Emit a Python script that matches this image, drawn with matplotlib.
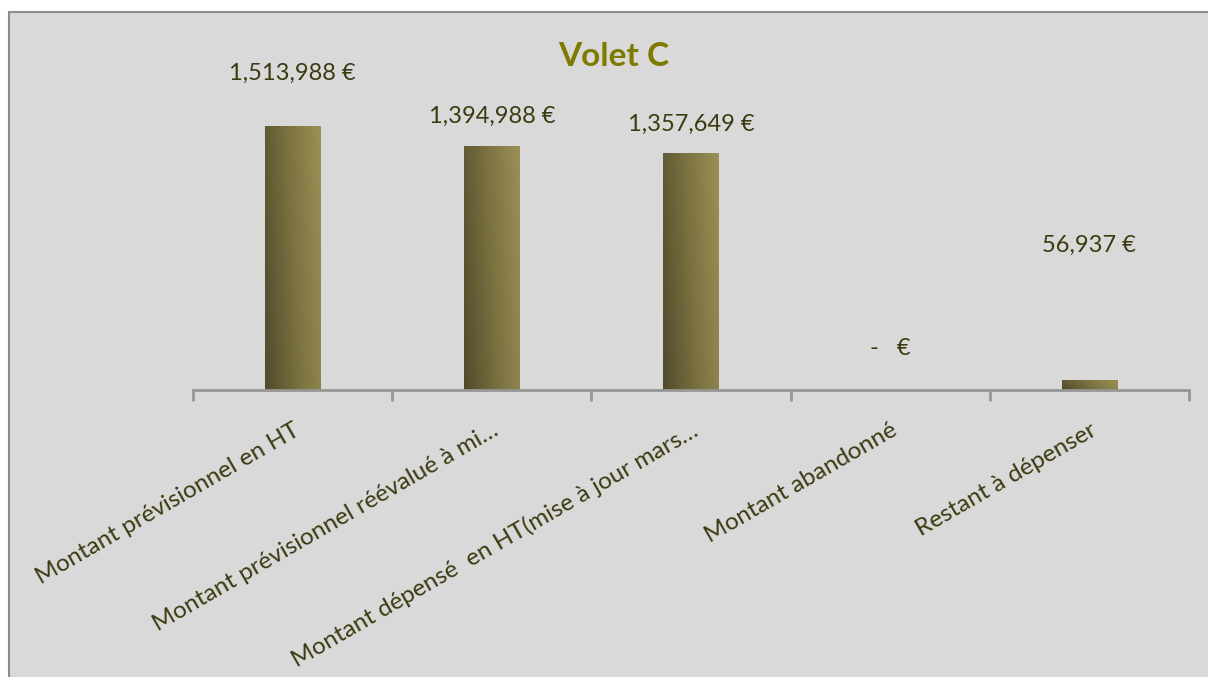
import matplotlib
matplotlib.use("Agg")
import matplotlib.pyplot as plt
import numpy as np
from matplotlib.colors import LinearSegmentedColormap
from matplotlib.patches import Rectangle

categories = [
    "Montant prévisionnel en HT",
    "Montant prévisionnel réévalué à mi…",
    "Montant dépensé  en HT(mise à jour mars…",
    "Montant abandonné",
    "Restant à dépenser",
]
values = [1513988, 1394988, 1357649, 0, 56937]
value_labels = ["1,513,988 €", "1,394,988 €", "1,357,649 €", "-   €", "56,937 €"]
# label heights (Excel placed them oddly), in data units
label_y = [1818000, 1571000, 1522000, 240000, 830000]

text_color = "#3b3a10"
plt.rcParams["font.family"] = ["Lato", "DejaVu Sans"]

fig = plt.figure(figsize=(12.08, 6.77), dpi=100)
fig.patch.set_facecolor("white")

# grey chart area with border on left/top
bg = Rectangle((9 / 1208, -0.01), 1.1, 1 - 12 / 677 + 0.01, transform=fig.transFigure,
               facecolor="#d9d9d9", edgecolor="#8c8c8c", linewidth=1.5, zorder=-1)
fig.patches.append(bg)

ax = fig.add_axes([193 / 1208, 1 - 390 / 677, 996 / 1208, 348.7 / 677])
ax.set_facecolor("none")
ax.set_xlim(-0.5, 4.5)
ax.set_ylim(0, 2000000)

x = np.arange(len(categories))
bars = ax.bar(x, values, width=0.28, color="none", zorder=2)

cmap = LinearSegmentedColormap.from_list("olive", ["#524b2c", "#7a7140", "#9b9055"])
gx, gy = np.meshgrid(np.linspace(0, 1, 64), np.linspace(0, 1, 64))
grad = 0.8 * gx + 0.2 * (1 - gy)
for bar in bars:
    h = bar.get_height()
    if h <= 0:
        continue
    ax.imshow(grad, cmap=cmap, aspect="auto", origin="upper",
              extent=(bar.get_x(), bar.get_x() + bar.get_width(), 0, h), zorder=2)

for xi, lab, ly in zip(x, value_labels, label_y):
    ax.text(xi, ly, lab, ha="center", va="center", fontsize=17, color=text_color)

fig.text(614 / 1208, 1 - 57 / 677, "Volet C", fontsize=24, fontweight="bold",
         color="#7f7a00", ha="center", va="center")

for s in ["top", "right", "left"]:
    ax.spines[s].set_visible(False)
ax.spines["bottom"].set_color("#969696")
ax.spines["bottom"].set_linewidth(2)
ax.set_yticks([])

ax.set_xticks(x)
ax.set_xticklabels(categories, rotation=30, ha="right", rotation_mode="anchor",
                   fontsize=17.5, color=text_color)
ax.tick_params(axis="x", length=0, pad=21)
ax.set_xticks(np.arange(-0.5, 5, 1), minor=True)
ax.tick_params(axis="x", which="minor", length=8, width=2, color="#969696")

plt.savefig("out.png", dpi=100)
